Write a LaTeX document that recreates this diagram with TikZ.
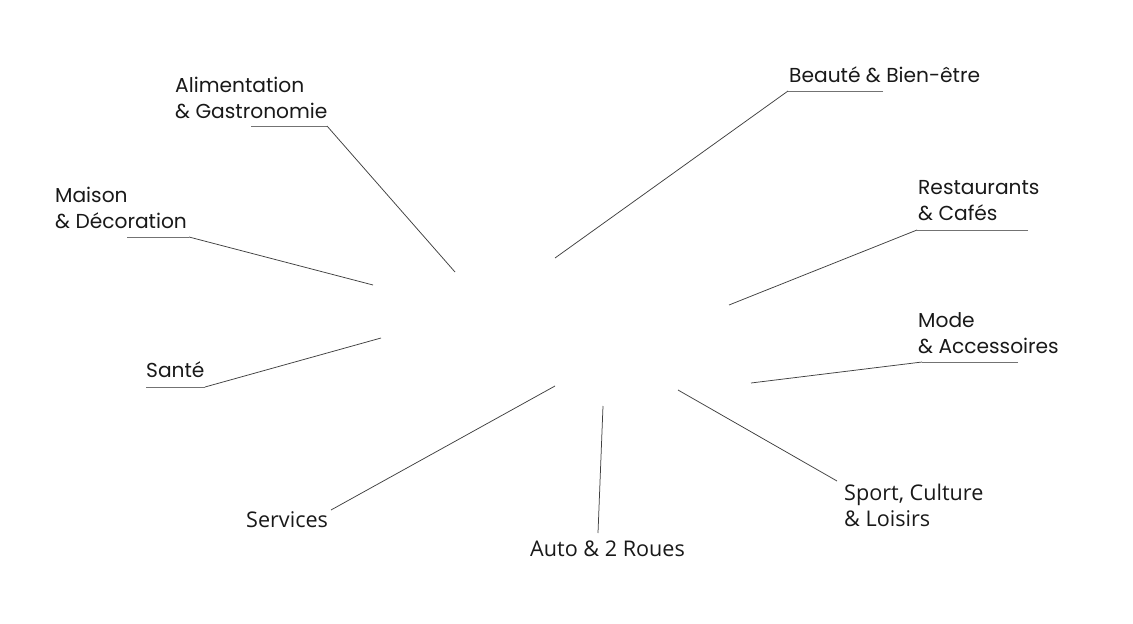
\documentclass[tikz,border=0pt]{standalone}
\usepackage{fontspec}
\setmainfont{Poppins}
\newfontfamily\botfont{Open Sans}
\begin{document}
\begin{tikzpicture}[x=1pt,y=-1pt,
  lbl/.style={inner sep=0pt, anchor=base west, align=left, font=\fontsize{20.2}{25.5}\selectfont, text=black!90},
  lblb/.style={lbl, font=\botfont\fontsize{21.6}{26}\selectfont},
  lead/.style={draw=black!75, line width=0.75pt},
  under/.style={draw=black!55, line width=0.9pt}]
\useasboundingbox[fill=white] (0,0) rectangle (1133,624);
% labels (base anchor = baseline of last line)
\node[lbl] (alim) at (175,118) {Alimentation\\\& Gastronomie};
\node[lbl] (maison) at (55,228) {Maison\\\& Décoration};
\node[lbl] (sante) at (146,377) {Santé};
\node[lbl] (beaute) at (789,82) {Beauté \& Bien-être};
\node[lbl] (resto) at (918,220) {Restaurants\\\& Cafés};
\node[lbl] (mode) at (918,353) {Mode\\\& Accessoires};
\node[lblb] (serv) at (246,527) {Services};
\node[lblb] (auto) at (530,556) {Auto \& 2 Roues};
\node[lblb] (sport) at (844,526) {Sport, Culture\\\& Loisirs};
% underline ends and inner ends
\coordinate (alimA) at (251,126); \coordinate (alimB) at (327,126); \coordinate (alimC) at (455,272);
\coordinate (maisA) at (127,237); \coordinate (maisB) at (189,237); \coordinate (maisC) at (373,285);
\coordinate (santA) at (146,387); \coordinate (santB) at (205,387); \coordinate (santC) at (381,338);
\coordinate (beauB) at (883,91); \coordinate (beauA) at (788,91); \coordinate (beauC) at (555,258);
\coordinate (restB) at (1028,230); \coordinate (restA) at (917,230); \coordinate (restC) at (729,305);
\coordinate (modeB) at (1018,362); \coordinate (modeA) at (922,362); \coordinate (modeC) at (751,383);
\coordinate (servA) at (331,510); \coordinate (servC) at (555,386);
\coordinate (autoA) at (598,533); \coordinate (autoC) at (603,406);
\coordinate (sporA) at (837,481); \coordinate (sporC) at (678,390);
% connectors
\draw[under] (alimA) -- (alimB); \draw[lead] (alimB) -- (alimC);
\draw[under] (maisA) -- (maisB); \draw[lead] (maisB) -- (maisC);
\draw[under] (santA) -- (santB); \draw[lead] (santB) -- (santC);
\draw[under] (beauB) -- (beauA); \draw[lead] (beauA) -- (beauC);
\draw[under] (restB) -- (restA); \draw[lead] (restA) -- (restC);
\draw[under] (modeB) -- (modeA); \draw[lead] (modeA) -- (modeC);
\draw[lead] (servA) -- (servC);
\draw[lead] (autoA) -- (autoC);
\draw[lead] (sporA) -- (sporC);
\end{tikzpicture}
\end{document}
